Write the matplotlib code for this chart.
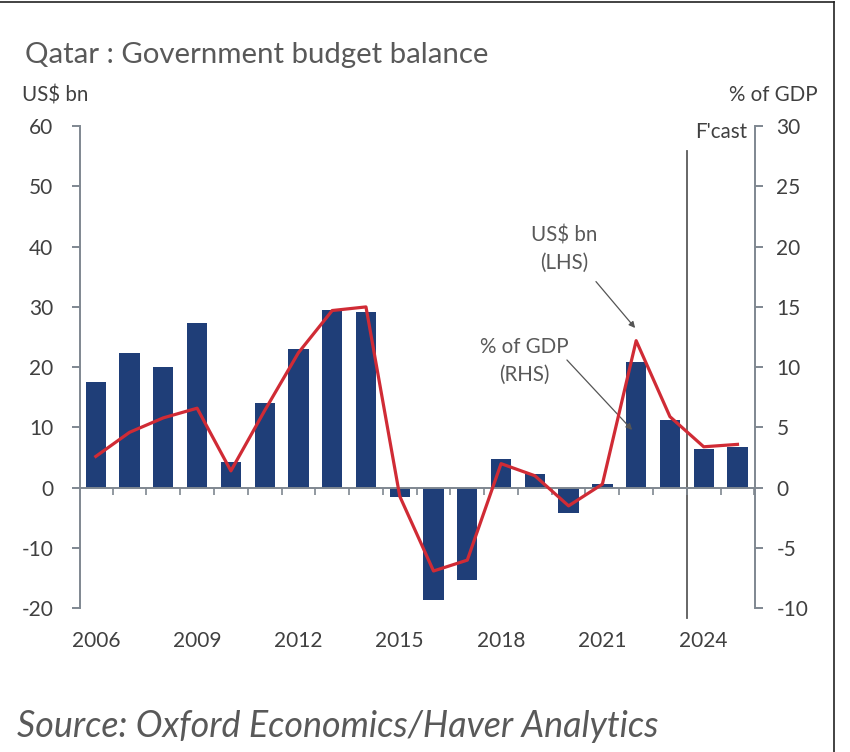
import matplotlib
matplotlib.use("Agg")
import matplotlib.pyplot as plt
from matplotlib.lines import Line2D
import numpy as np

plt.rcParams['font.family'] = ['Lato', 'DejaVu Sans']
plt.rcParams['axes.unicode_minus'] = False

# data
years = list(range(2006, 2026))
balance_usd = [17.6, 22.3, 20.1, 27.3, 4.3, 14.1, 23.0, 29.5, 29.2, -1.5,
               -18.6, -15.3, 4.7, 2.3, -4.2, 0.7, 20.9, 11.3, 6.5, 6.7]
balance_gdp = [2.6, 4.6, 5.8, 6.6, 1.4, 6.4, 11.2, 14.7, 15.0, -0.7,
               -6.9, -6.0, 2.0, 1.0, -1.5, 0.3, 12.2, 5.9, 3.4, 3.6]
label_years = [2006, 2009, 2012, 2015, 2018, 2021, 2024]
left_ticks = [-20, -10, 0, 10, 20, 30, 40, 50, 60]
right_ticks = [-10, -5, 0, 5, 10, 15, 20, 25, 30]
forecast_start = 2024

BAR = '#1f3e78'
RED = '#d02b35'
GREY = '#7f8790'
TXT = '#404040'

fig = plt.figure(figsize=(8.5, 7.52), dpi=100)
ax = fig.add_axes([0.0947, 0.191, 0.7935, 0.6414])

x = np.arange(len(years))
ax.bar(x, balance_usd, width=0.6, color=BAR, zorder=2)
ax.set_xlim(-0.453, 19.518)
ax.set_ylim(-20, 60)
ax.set_yticks(left_ticks)

for s in ['top', 'right']:
    ax.spines[s].set_visible(False)
ax.spines['left'].set_color(GREY)
ax.spines['left'].set_linewidth(1.4)
ax.spines['bottom'].set_position(('data', 0))
ax.spines['bottom'].set_color(GREY)
ax.spines['bottom'].set_linewidth(1.4)
ax.spines['bottom'].set_zorder(3)

# ticks on the zero line sit between the bars
ax.set_xticks(np.arange(0.5, len(years), 1))
ax.tick_params(axis='x', length=5, width=1.2, color=GREY, labelbottom=False)
ax.tick_params(axis='y', length=5.5, width=1.4, color=GREY, pad=14,
               labelsize=15, labelcolor=TXT)

# year labels along the bottom
sec = ax.secondary_xaxis('bottom')
sec.set_xticks([years.index(y) for y in label_years])
sec.set_xticklabels([str(y) for y in label_years])
sec.tick_params(length=0, pad=16, labelsize=15, labelcolor=TXT)
sec.spines['bottom'].set_visible(False)

# forecast divider
fx = years.index(forecast_start) - 0.5
ax.axvline(fx, ymin=-0.02, ymax=0.948, color='#5a5a5a', lw=1.3, clip_on=False, zorder=1)

ax2 = ax.twinx()
ax2.plot(x, balance_gdp, color=RED, lw=2.3, zorder=3)
ax2.set_ylim(-10, 30)
ax2.set_yticks(right_ticks)
for s in ['top', 'left', 'bottom']:
    ax2.spines[s].set_visible(False)
ax2.spines['right'].set_color(GREY)
ax2.spines['right'].set_linewidth(1.4)
ax2.tick_params(axis='y', length=5.5, width=1.4, color=GREY, pad=10,
                labelsize=15, labelcolor=TXT)

# annotations
ax.text(13.86, 39.6, 'US$ bn\n(LHS)', ha='center', va='center', fontsize=14.8,
        color='#595959', linespacing=1.5)
ax.annotate('', xy=(15.97, 26.5), xytext=(14.81, 34.2),
            arrowprops=dict(arrowstyle='-|>', color='#555555', lw=0.9,
                            mutation_scale=9, shrinkA=0, shrinkB=0))
ax.text(12.68, 21.1, '% of GDP\n(RHS)', ha='center', va='center', fontsize=14.8,
        color='#595959', linespacing=1.5)
ax.annotate('', xy=(15.88, 9.6), xytext=(13.95, 21.2),
            arrowprops=dict(arrowstyle='-|>', color='#555555', lw=0.9,
                            mutation_scale=9, shrinkA=0, shrinkB=0))

W, H = 850, 752
fig.text(25 / W, 1 - 63 / H, 'Qatar : Government budget balance', fontsize=21.2,
         color='#595959', va='baseline')
fig.text(22 / W, 1 - 101 / H, 'US$ bn', fontsize=14.8, color=TXT, va='baseline')
fig.text(818 / W, 1 - 101 / H, '% of GDP', fontsize=14.8, color=TXT,
         va='baseline', ha='right')
fig.text(747 / W, 1 - 138 / H, "F'cast", fontsize=14.8, color=TXT,
         va='baseline', ha='right')
fig.text(17 / W, 1 - 737 / H, 'Source: Oxford Economics/Haver Analytics',
         fontsize=25.8, style='italic', color='#595959', va='baseline')

# frame edges visible on the screenshot
fig.add_artist(Line2D([0, 834 / W], [1 - 1.5 / H, 1 - 1.5 / H],
                      transform=fig.transFigure, color='#222222', lw=1.2))
fig.add_artist(Line2D([834 / W, 834 / W], [0, 1 - 1.5 / H],
                      transform=fig.transFigure, color='#222222', lw=1.2))

fig.savefig('out.png', dpi=100)
